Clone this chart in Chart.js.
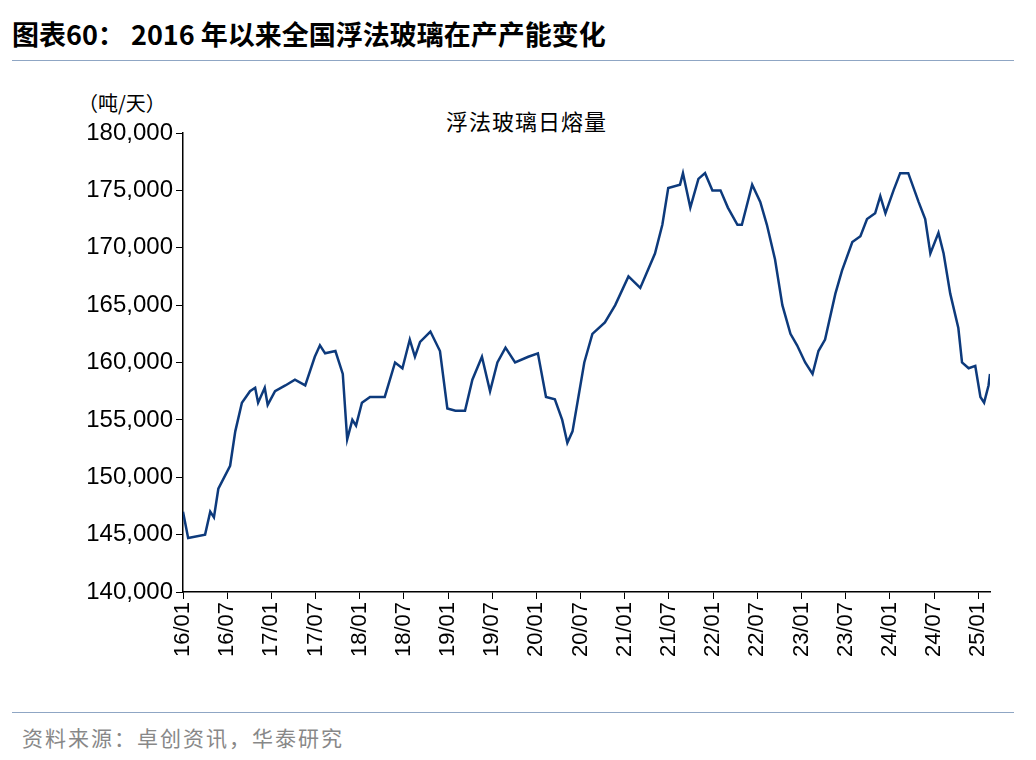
<!DOCTYPE html>
<html><head><meta charset="utf-8">
<script src="https://cdn.jsdelivr.net/npm/chart.js@4"></script>
<style>
body{margin:0;width:1036px;height:760px;background:#fff;position:relative;overflow:hidden;font-family:"Liberation Sans",Arial,sans-serif}
#c{position:absolute;left:0;top:0}
.t{position:absolute;white-space:nowrap}
</style></head><body>
<div class="t" style="left:12px;top:14px;font:bold 27px 'Noto Sans CJK SC';color:#000">图表60： 2016 年以来全国浮法玻璃在产产能变化</div>
<div style="position:absolute;left:12px;top:60px;width:1002px;height:1px;background:#8fa6c4"></div>
<div class="t" style="left:78px;top:88px;font:20px 'Noto Sans CJK SC'">（吨/天）</div>
<div class="t" style="left:446px;top:104px;font:22px 'Noto Sans CJK SC';letter-spacing:1px">浮法玻璃日熔量</div>
<div style="position:absolute;left:12px;top:712px;width:1002px;height:1px;background:#8fa6c4"></div>
<div class="t" style="left:22px;top:722px;font:21px 'Noto Sans CJK SC';color:#888;letter-spacing:2px">资料来源：卓创资讯，华泰研究</div>
<canvas id="c" width="1036" height="760"></canvas>
<script>
const months=[0,0.7,3.0,3.7,4.2,4.8,6.4,7.1,8.0,9.1,9.8,10.2,11.1,11.5,12.5,13.9,15.2,16.6,17.9,18.6,19.3,20.7,21.7,22.3,23.0,23.5,24.3,25.4,27.4,28.8,29.8,30.8,31.5,32.2,33.6,34.9,35.9,37.0,38.3,39.3,40.6,41.7,42.7,43.8,45.1,46.9,48.2,49.3,50.5,51.5,52.2,52.9,53.7,54.5,55.6,57.3,58.7,60.5,62.1,64.1,65.1,65.9,67.5,67.9,68.9,70.0,70.9,71.9,73.0,74.0,75.3,75.9,77.3,78.4,79.3,80.4,81.4,82.5,83.4,84.5,85.5,86.3,87.2,88.6,89.5,90.9,92.0,92.9,94.0,94.7,95.4,96.5,97.4,98.5,99.9,100.8,101.5,102.6,103.3,104.2,105.3,105.8,106.7,107.6,108.3,108.8,109.4,109.6];
const capacity=[147000,144700,145000,147000,146500,149000,151000,154000,156500,157500,157800,156500,157800,156300,157500,158000,158500,158000,160500,161500,160800,161000,159000,153300,155000,154500,156500,157000,157000,160000,159500,162000,160500,161800,162700,161000,156000,155800,155800,158500,160500,157500,160000,161300,160000,160500,160800,157000,156800,155000,153000,154000,157000,160000,162500,163500,165000,167500,166500,169500,172000,175200,175500,176500,173500,176000,176500,175000,175000,173500,172000,172000,175500,174000,172000,169000,165000,162500,161500,160000,159000,161000,162000,166000,168000,170500,171000,172500,173000,174500,173000,175000,176500,176500,174000,172500,169500,171300,169500,166000,163000,160000,159500,159700,157000,156500,158000,159000];
const tickLabels=['16/01','16/07','17/01','17/07','18/01','18/07','19/01','19/07','20/01','20/07','21/01','21/07','22/01','22/07','23/01','23/07','24/01','24/07','25/01'];
new Chart(document.getElementById('c'),{type:'line',
data:{datasets:[{data:months.map((m,i)=>({x:m,y:capacity[i]})),borderColor:'#0d3a7c',borderWidth:2.5,pointRadius:0,tension:0}]},
options:{responsive:false,animation:false,layout:{padding:{top:133,right:46,left:0,bottom:0}},
plugins:{legend:{display:false},tooltip:{enabled:false}},
scales:{
x:{type:'linear',min:0,max:109.6,afterBuildTicks:a=>{a.ticks=tickLabels.map((_,i)=>({value:i*6}));},
afterFit:a=>{a.height=168;},
grid:{drawOnChartArea:false,color:'#000',tickLength:7,drawTicks:true},border:{color:'#000',width:1.5},
ticks:{maxRotation:90,minRotation:90,autoSkip:false,color:'#000',font:{size:22,family:'Liberation Sans'},callback:v=>tickLabels[Math.round(v/6)]}},
y:{min:140000,max:180000,afterFit:a=>{a.width=183;},
grid:{drawOnChartArea:false,color:'#000',tickLength:7},border:{color:'#000',width:1.5},
ticks:{stepSize:5000,color:'#000',font:{size:24,family:'Liberation Sans'},callback:v=>v.toLocaleString('en-US')}}
}}});
</script></body></html>
